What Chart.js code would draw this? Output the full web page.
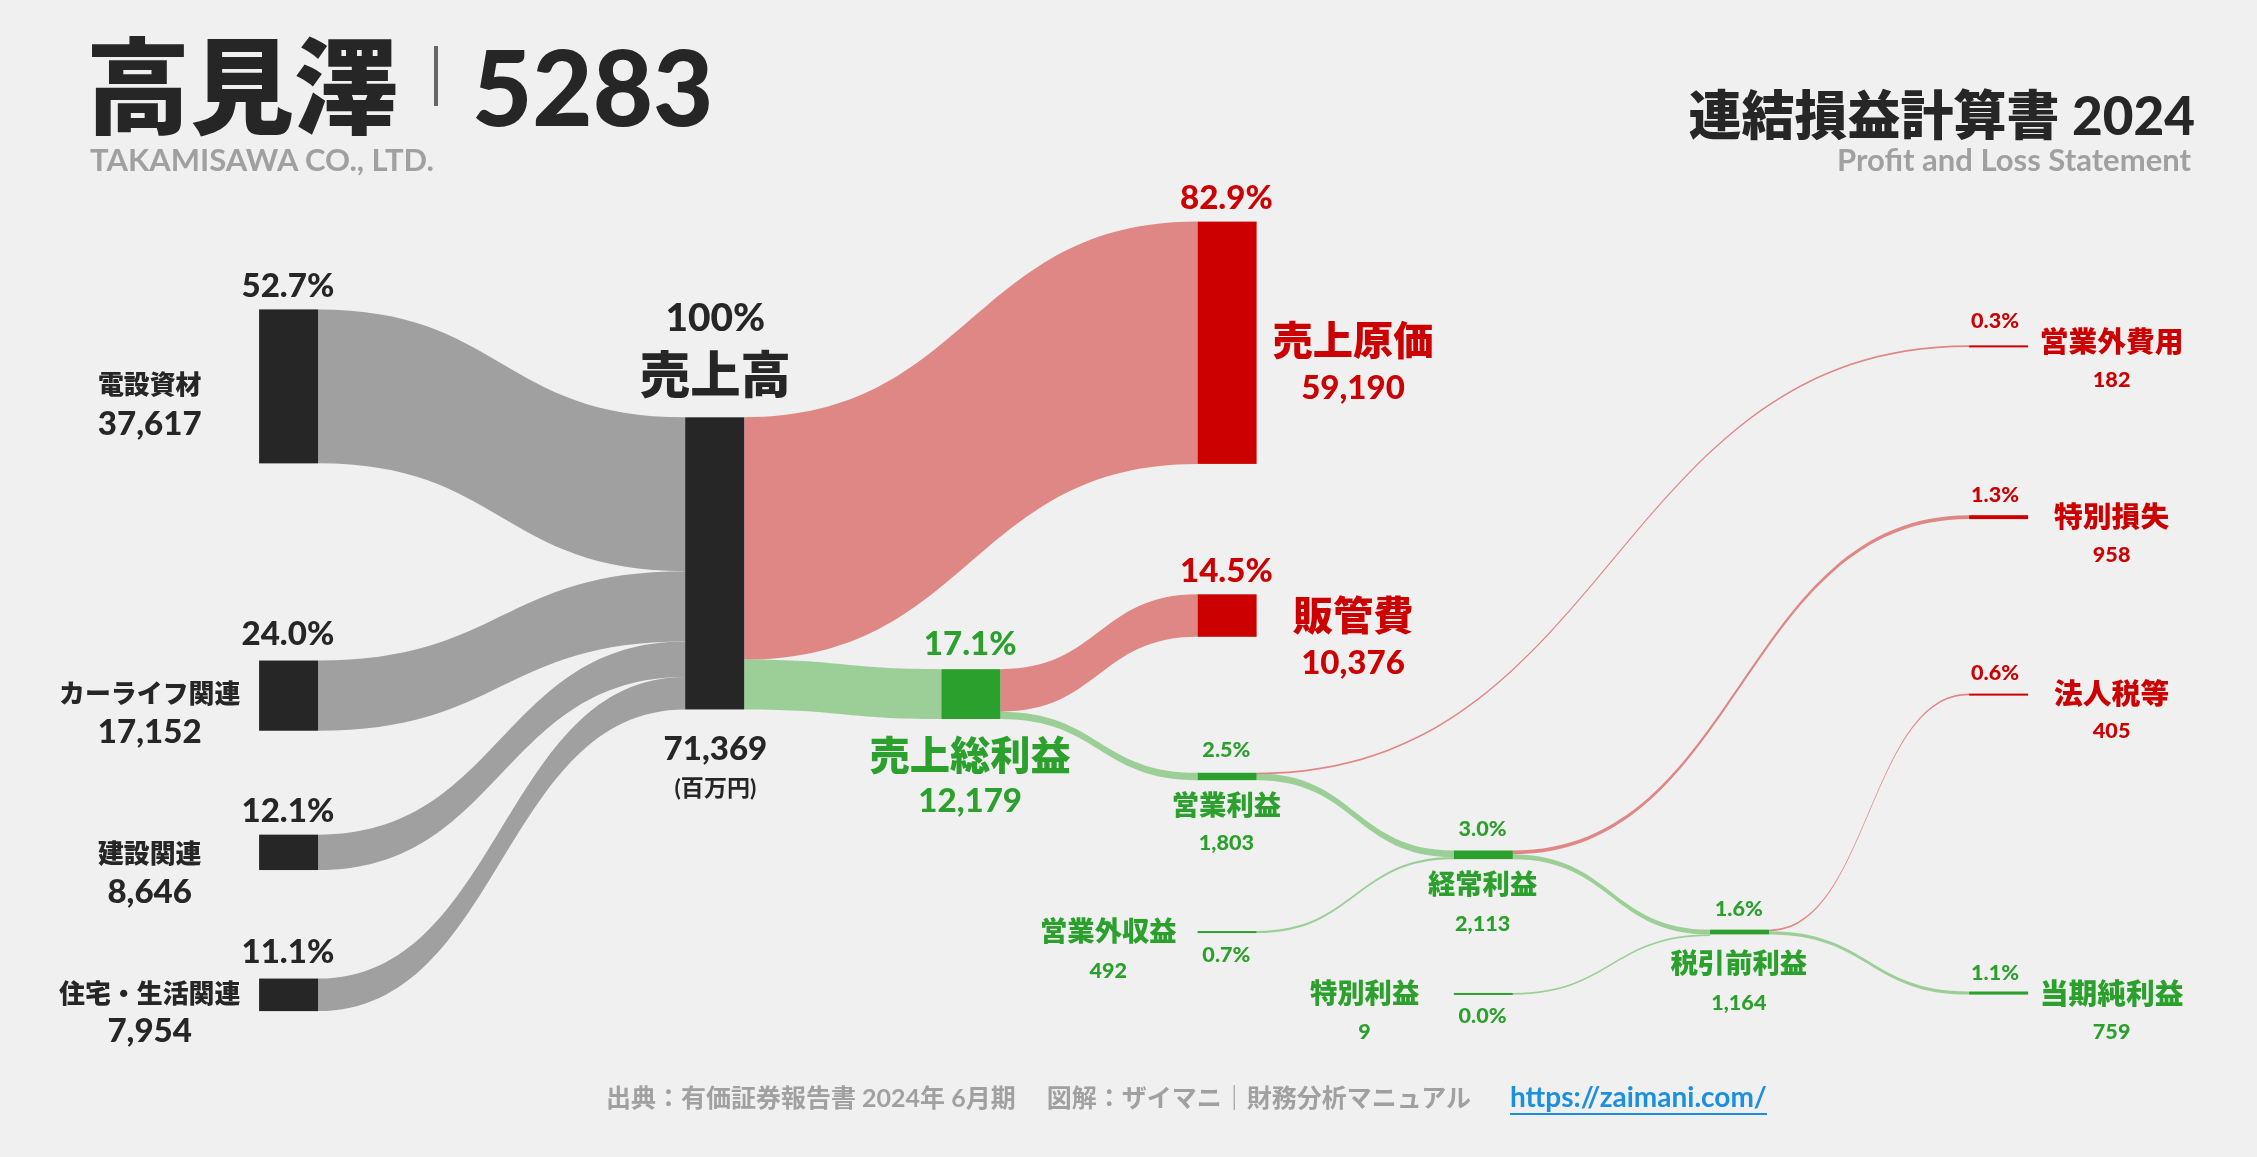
<!DOCTYPE html>
<html><head><meta charset="utf-8">
<script src="https://cdn.jsdelivr.net/npm/chart.js@4"></script>
<style>
html,body{margin:0;padding:0;background:#f0f0f0;width:2257px;height:1157px;overflow:hidden;font-family:Lato,"Noto Sans CJK JP",sans-serif}
#wrap{position:absolute;left:0;top:0;width:2257px;height:1157px}
.t{position:absolute;white-space:nowrap;font-family:Lato,"Noto Sans CJK JP",sans-serif}
</style></head><body>
<div id="wrap"><canvas id="c" width="2257" height="1157"></canvas></div>
<div class="t" style="left:86px;top:26px;font-size:104px;font-weight:900;color:#262626;line-height:120px">高見澤<span style="display:inline-block;width:4px;height:60px;background:#666;margin:0 34px 0 36px;vertical-align:20px"></span>5283</div>
<div class="t" style="left:90px;top:140px;font-size:31px;font-weight:700;color:#a0a0a0">TAKAMISAWA CO., LTD.</div>
<div class="t" style="right:62px;top:74px;font-size:53px;font-weight:900;color:#262626">連結損益計算書 2024</div>
<div class="t" style="right:66px;top:140px;font-size:31px;font-weight:700;color:#a0a0a0">Profit and Loss Statement</div>
<div class="t" style="left:606px;top:1078px;font-size:25px;font-weight:700;color:#a0a0a0">出典：有価証券報告書 2024年 6月期　 図解：ザイマニ｜財務分析マニュアル　<span style="color:#1a90e0;border-bottom:2px solid #1a90e0;margin-left:14px;font-size:28px">https://zaimani.com/</span></div>
<script>
// ---- data (百万円) ----
const nodeNames = ["電設資材","カーライフ関連","建設関連","住宅・生活関連","売上高","売上原価","販管費","売上総利益","営業利益","営業外収益","営業外費用","経常利益","特別利益","特別損失","税引前利益","法人税等","当期純利益"];
const nodeValues = [37617,17152,8646,7954,71369,59190,10376,12179,1803,492,182,2113,9,958,1164,405,759];
const nodePercents = ["52.7%","24.0%","12.1%","11.1%","100%","82.9%","14.5%","17.1%","2.5%","0.7%","0.3%","3.0%","0.0%","1.3%","1.6%","0.6%","1.1%"];
const nodeValueLabels = ["37,617","17,152","8,646","7,954","71,369","59,190","10,376","12,179","1,803","492","182","2,113","9","958","1,164","405","759"];
const flowFrom = [0,1,2,3,4,4,7,7,8,8,9,11,11,12,14,14];
const flowTo   = [4,4,4,4,5,7,6,8,10,11,11,13,14,14,15,16];
const flowValues=[37617,17152,8646,7954,59190,12179,10376,1803,182,1621,492,958,1155,9,405,759];

// ---- layout (reference units 1568x804) ----
const nodeX   = [180,180,180,180,476,832,832,654,832,832,1368,1010,1010,1368,1188,1368,1368];
const nodeTop = [215,459,580,680,290,154,413,465,537,647,240,591,690,358,646,482,689];
const NW=41, K=203/71369;
const kind = ["d","d","d","d","d","r","r","g","g","g","r","g","g","r","g","r","g"];
const col = {d:"#262626",r:"#cc0000",g:"#2ca02c"};
const flowCol = {d:"#a0a0a0",r:"rgba(216,100,98,0.75)",g:"rgba(128,196,122,0.75)"};

const sankey = {
  id:"sankey",
  afterDatasetsDraw(chart){
    const ctx=chart.ctx, xs=chart.scales.x, ys=chart.scales.y;
    const px=v=>xs.getPixelForValue(v), py=v=>ys.getPixelForValue(v);
    const sc=Math.abs(py(100)-py(0))/100;
    const h=v=>Math.max(v*K,1.2);
    const outOff=nodeValues.map(()=>0), inOff=nodeValues.map(()=>0);
    ctx.save();
    flowFrom.forEach((s,i)=>{
      const t=flowTo[i], w=h(flowValues[i]);
      const y0=nodeTop[s]+outOff[s]; outOff[s]+=flowValues[i]*K;
      const y1=nodeTop[t]+inOff[t]; inOff[t]+=flowValues[i]*K;
      const x0=px(nodeX[s]+NW), x1=px(nodeX[t]), xm=(x0+x1)/2;
      ctx.beginPath();
      ctx.moveTo(x0,py(y0));
      ctx.bezierCurveTo(xm,py(y0),xm,py(y1),x1,py(y1));
      ctx.lineTo(x1,py(y1+w));
      ctx.bezierCurveTo(xm,py(y1+w),xm,py(y0+w),x0,py(y0+w));
      ctx.closePath();
      ctx.fillStyle=s<4?flowCol.d:flowCol[kind[t]];
      ctx.fill();
    });
    nodeValues.forEach((v,i)=>{
      ctx.fillStyle=col[kind[i]];
      ctx.fillRect(px(nodeX[i]),py(nodeTop[i]),px(nodeX[i]+NW)-px(nodeX[i]),Math.max(py(nodeTop[i]+h(v))-py(nodeTop[i]),2));
    });
    const T=(txt,x,y,size,color,weight,align)=>{
      ctx.font=`${weight||900} ${size*sc}px Lato, "Noto Sans CJK JP", sans-serif`;
      ctx.fillStyle=color; ctx.textAlign=align||"center"; ctx.textBaseline="middle";
      ctx.fillText(txt,px(x),py(y));
    };
    const D="#262626",R="#cc0000",G="#2ca02c";
    [[0,268,295,199],[1,483,509,441],[2,594,620,564],[3,691,717,662]].forEach(([i,yn,yv,yp])=>{
      T(nodePercents[i],200,yp,23,D);
      T(nodeNames[i],104,yn,18,D);
      T(nodeValueLabels[i],104,yv,23,D);
    });
    T(nodePercents[4],497,221,27,D); T(nodeNames[4],497,262,35,D);
    T(nodeValueLabels[4],497,521,23,D); T("(百万円)",497,548,16,D,700);
    T(nodePercents[5],852,138,23,R); T(nodeNames[5],940,238,28,R); T(nodeValueLabels[5],940,270,23,R);
    T(nodePercents[6],852,397,23,R); T(nodeNames[6],940,429,28,R); T(nodeValueLabels[6],940,461,23,R);
    T(nodePercents[7],674,448,23,G); T(nodeNames[7],674,526,28,G); T(nodeValueLabels[7],674,557,23,G);
    T(nodePercents[8],852,521,15,G); T(nodeNames[8],852,560,19,G); T(nodeValueLabels[8],852,586,15,G);
    T(nodePercents[11],1030,576,15,G); T(nodeNames[11],1030,615,19,G); T(nodeValueLabels[11],1030,642,15,G);
    T(nodeNames[9],770,648,19,G); T(nodeValueLabels[9],770,675,15,G); T(nodePercents[9],852,664,15,G);
    T(nodeNames[12],948,691,19,G); T(nodeValueLabels[12],948,717,15,G); T(nodePercents[12],1030,706,15,G);
    T(nodePercents[14],1208,632,15,G); T(nodeNames[14],1208,670,19,G); T(nodeValueLabels[14],1208,697,15,G);
    [[10,223,238,264,R],[13,344,360,386,R],[15,468,483,508,R],[16,676,691,717,G]].forEach(([i,yp,yn,yv,c])=>{
      T(nodePercents[i],1386,yp,15,c); T(nodeNames[i],1467,yn,20,c); T(nodeValueLabels[i],1467,yv,15,c);
    });
    ctx.restore();
  }
};

new Chart(document.getElementById("c"),{
  type:"scatter",
  data:{datasets:[{data:nodeNames.map((n,i)=>({x:nodeX[i],y:nodeTop[i]})),pointRadius:0}]},
  options:{responsive:false,animation:false,events:[],
    layout:{padding:0},
    plugins:{legend:{display:false},tooltip:{enabled:false}},
    scales:{x:{type:"linear",min:0,max:1568,display:false},y:{type:"linear",min:0,max:804,reverse:true,display:false}}},
  plugins:[sankey]
});
</script></body></html>
